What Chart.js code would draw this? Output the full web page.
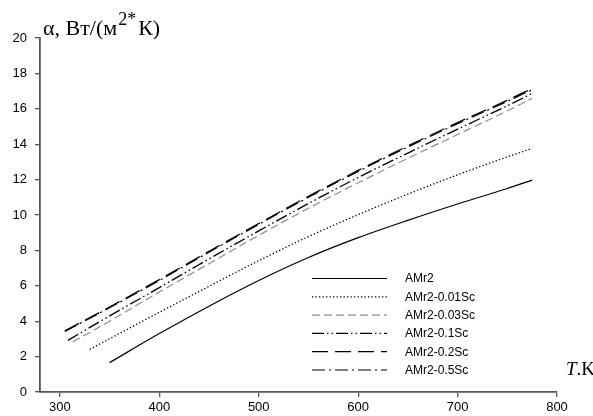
<!DOCTYPE html>
<html>
<head>
<meta charset="utf-8">
<script src="https://cdn.jsdelivr.net/npm/chart.js@4.4.1/dist/chart.umd.min.js"></script>
<style>
  html, body { margin: 0; padding: 0; background: #fff; }
  #wrap { width: 593px; height: 416px; }
</style>
</head>
<body>
<div id="wrap"><canvas id="chart_alpha"></canvas></div>
<script>
/* alpha(T) chart */

// series names
var seriesNames = ['AMr2', 'AMr2-0.01Sc', 'AMr2-0.03Sc', 'AMr2-0.1Sc', 'AMr2-0.2Sc', 'AMr2-0.5Sc'];

// temperature, K
var tAMr2   = [350, 400, 450, 500, 550, 600, 650, 700, 750, 775];
var tSc001  = [330, 400, 450, 500, 550, 600, 650, 700, 750, 775];
var tSc003  = [313, 350, 400, 450, 500, 550, 600, 650, 700, 750, 775];
var tSc01   = [308, 350, 400, 450, 500, 550, 600, 650, 700, 750, 775];
var tSc02   = [305, 350, 400, 450, 500, 550, 600, 650, 700, 750, 775];
var tSc05   = [305, 350, 400, 450, 500, 550, 600, 650, 700, 750, 775];

// alpha, W/(m2*K)
var aAMr2   = [1.66, 3.3, 4.85, 6.3, 7.6, 8.72, 9.7, 10.62, 11.5, 11.97];
var aSc001  = [2.41, 4.5, 5.97, 7.42, 8.78, 10.02, 11.18, 12.27, 13.28, 13.76];
var aSc003  = [2.83, 4.0, 5.65, 7.25, 8.85, 10.38, 11.82, 13.2, 14.55, 15.88, 16.59];
var aSc01   = [2.92, 4.3, 5.9, 7.52, 9.1, 10.65, 12.12, 13.5, 14.85, 16.17, 16.87];
var aSc02   = [3.45, 4.8, 6.35, 7.95, 9.52, 11.05, 12.52, 13.9, 15.22, 16.48, 17.15];
var aSc05   = [3.42, 4.76, 6.3, 7.9, 9.47, 11.0, 12.46, 13.84, 15.16, 16.42, 17.08];

// axis ticks
var xTicks = [300, 400, 500, 600, 700, 800];
var yTicks = [0, 2, 4, 6, 8, 10, 12, 14, 16, 18, 20];

function pts(t, a) {
    var out = [];
    for (var i = 0; i < t.length; i++) out.push({x: t[i], y: a[i]});
    return out;
}

var styles = [
    {color: '#000', dash: [], width: 1.2},
    {color: '#000', dash: [1.3, 2.2], width: 1.3},
    {color: '#8c8c8c', dash: [8, 4], width: 1.2},
    {color: '#000', dash: [12, 3, 1.5, 3, 1.5, 3], width: 1.3},
    {color: '#000', dash: [16, 7], width: 1.3},
    {color: '#000', dash: [13, 4, 2, 4], width: 1.2}
];

var seriesData = [pts(tAMr2, aAMr2), pts(tSc001, aSc001), pts(tSc003, aSc003),
                  pts(tSc01, aSc01), pts(tSc02, aSc02), pts(tSc05, aSc05)];

var datasets = seriesData.map(function (d, i) {
    return {
        label: seriesNames[i],
        data: d,
        borderColor: styles[i].color,
        borderWidth: styles[i].width,
        borderDash: styles[i].dash,
        pointRadius: 0,
        fill: false,
        cubicInterpolationMode: 'monotone'
    };
});

// legend inside the plot + axis titles
var decorPlugin = {
    id: 'decor',
    afterDraw: function (chart) {
        var ctx = chart.ctx;
        ctx.save();
        // legend
        var x0 = 312, x1 = 387, tx = 405, y0 = 278.5, step = 18.3;
        ctx.font = '12px "Liberation Sans", Arial, sans-serif';
        ctx.textBaseline = 'middle';
        ctx.fillStyle = '#000';
        chart.data.datasets.forEach(function (ds, i) {
            var y = y0 + i * step;
            ctx.beginPath();
            ctx.setLineDash(ds.borderDash);
            ctx.strokeStyle = ds.borderColor;
            ctx.lineWidth = ds.borderWidth;
            ctx.moveTo(x0, y);
            ctx.lineTo(x1, y);
            ctx.stroke();
            ctx.setLineDash([]);
            ctx.fillText(ds.label, tx, y + 0.5);
        });
        // y title
        ctx.textBaseline = 'alphabetic';
        ctx.textAlign = 'left';
        var x = 43, base = 34.5;
        ctx.font = '22px "Liberation Serif", "Times New Roman", serif';
        ctx.fillText('α, Вт/(м', x, base);
        x += ctx.measureText('α, Вт/(м').width;
        ctx.font = '18px "Liberation Serif", "Times New Roman", serif';
        ctx.fillText('2*', x + 1, base - 10);
        x += ctx.measureText('2*').width + 3;
        ctx.font = '22px "Liberation Serif", "Times New Roman", serif';
        ctx.fillText('К)', x, base);
        // x title
        x = 566; base = 375;
        ctx.font = 'italic 19px "Liberation Serif", "Times New Roman", serif';
        ctx.fillText('T', x, base);
        x += ctx.measureText('T').width;
        ctx.font = '19px "Liberation Serif", "Times New Roman", serif';
        ctx.fillText('.K', x, base);
        ctx.restore();
    }
};

var axisColor = '#555';
var tickFont = {family: '"Liberation Sans", Arial, sans-serif', size: 13};

var ctx = document.getElementById('chart_alpha').getContext('2d');
var alphaChart = new Chart(ctx, {
    type: 'line',
    data: {datasets: datasets},
    options: {
        responsive: true,
        maintainAspectRatio: false,
        animation: false,
        layout: {padding: {left: 0, top: 38, right: 36, bottom: 0}},
        plugins: {
            legend: {display: false},
            tooltip: {enabled: false}
        },
        scales: {
            x: {
                type: 'linear',
                min: 280,
                max: 800,
                afterBuildTicks: function (s) { s.ticks = xTicks.map(function (v) { return {value: v}; }); },
                afterFit: function (s) { s.height = 24; },
                grid: {drawOnChartArea: false, drawTicks: true, tickLength: 5, color: axisColor, lineWidth: 1.3},
                border: {display: true, color: axisColor, width: 1.8},
                ticks: {color: '#000', font: tickFont, padding: 3, maxRotation: 0}
            },
            y: {
                min: 0,
                max: 20,
                afterBuildTicks: function (s) { s.ticks = yTicks.map(function (v) { return {value: v}; }); },
                afterFit: function (s) { s.width = 40; },
                grid: {drawOnChartArea: false, drawTicks: true, tickLength: 5, color: axisColor, lineWidth: 1.3},
                border: {display: true, color: axisColor, width: 1.8},
                ticks: {color: '#000', font: tickFont, padding: 8}
            }
        }
    },
    plugins: [decorPlugin]
});
</script>
</body>
</html>
